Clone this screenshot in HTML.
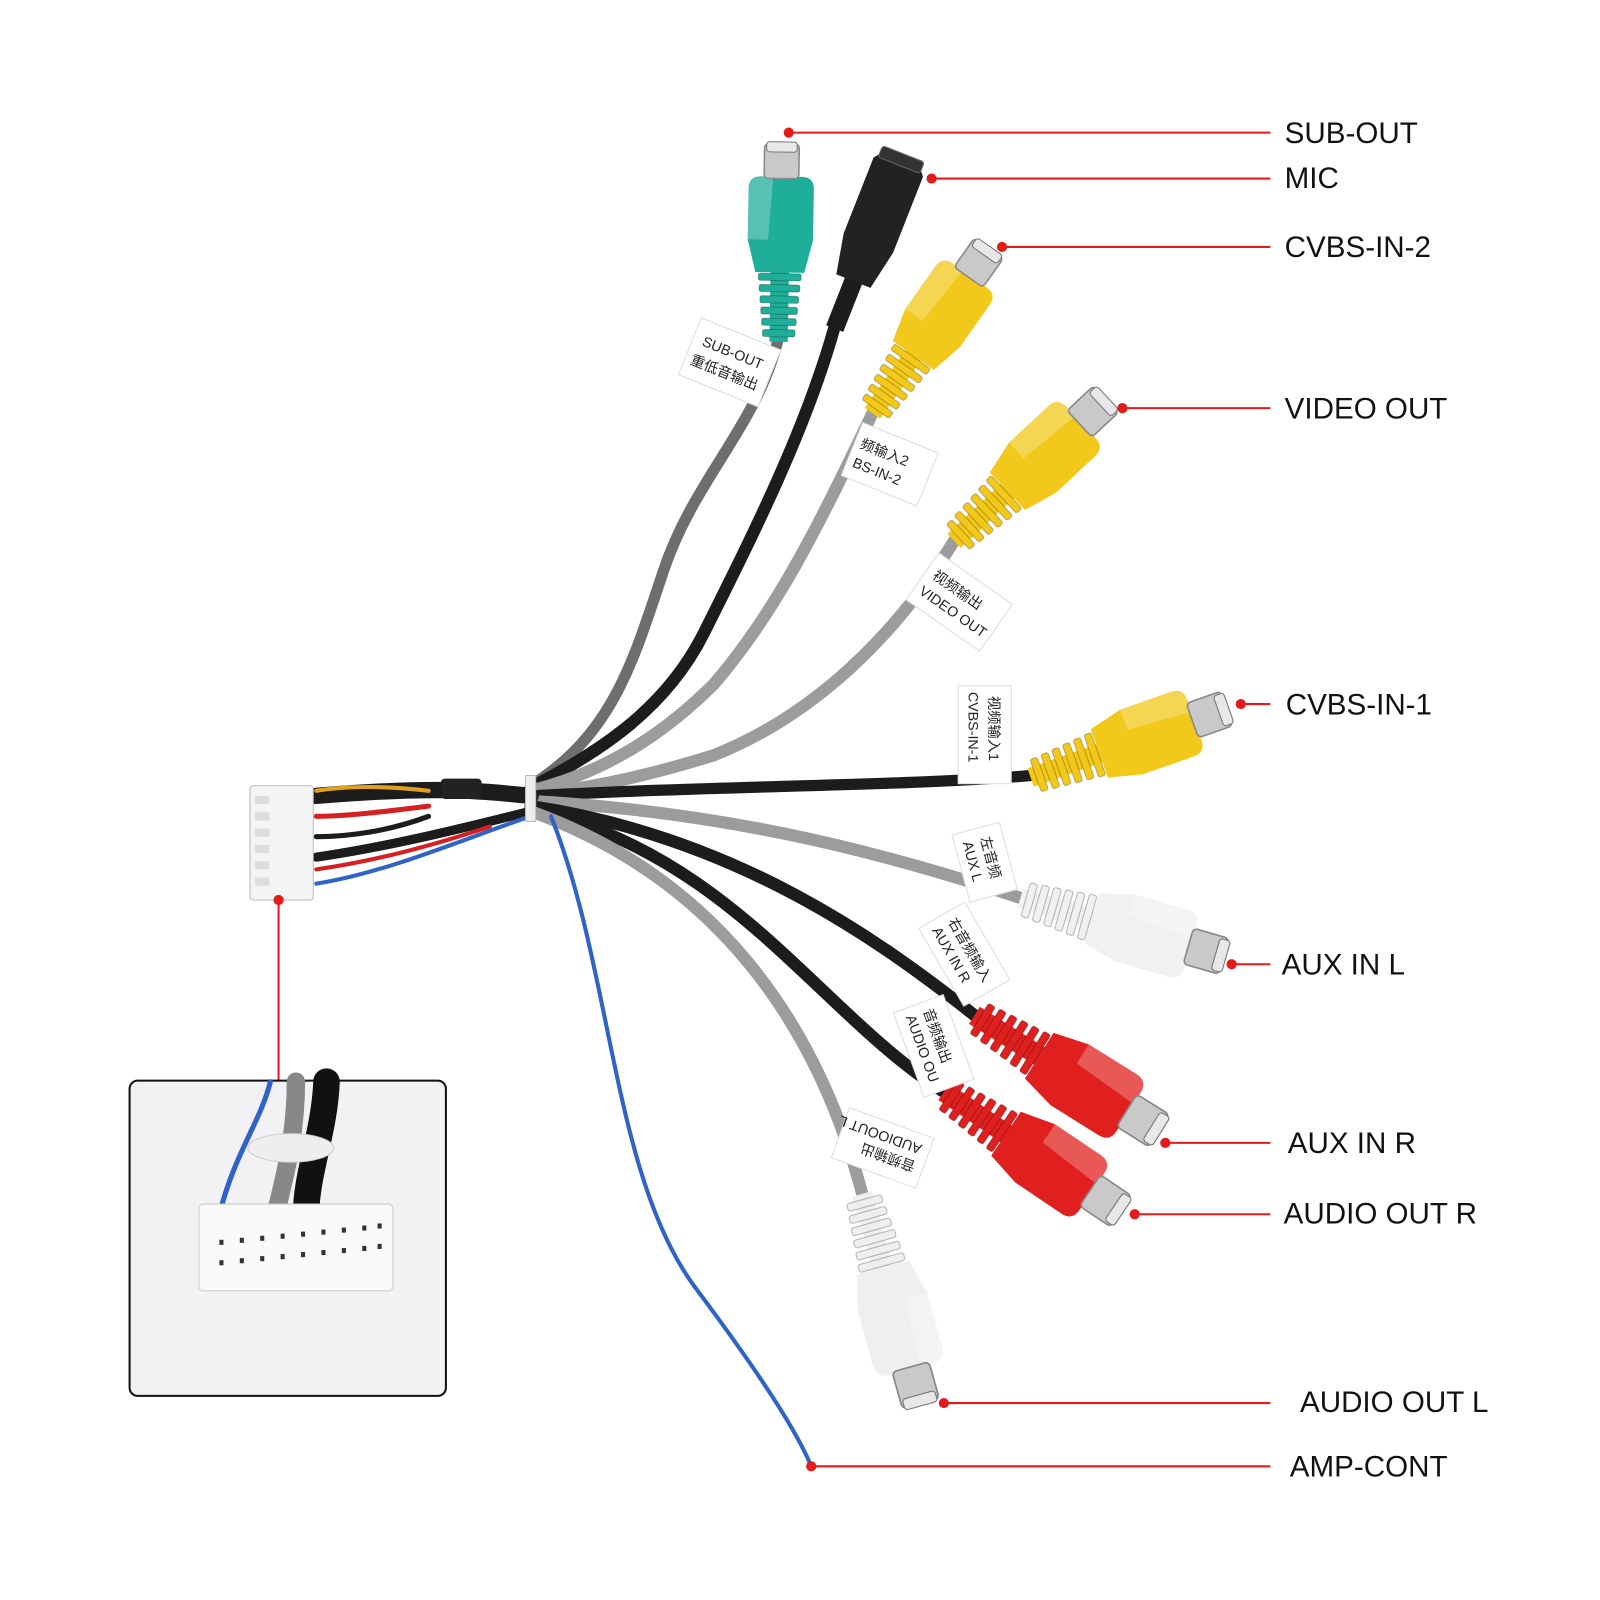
<!DOCTYPE html>
<html><head><meta charset="utf-8"><style>
html,body{margin:0;padding:0;background:#fff;}
svg{display:block;}
text{font-family:"Liberation Sans","Noto Sans CJK SC",sans-serif;}
</style></head><body>
<svg width="1600" height="1600" viewBox="0 0 1600 1600" xmlns="http://www.w3.org/2000/svg">
<defs>
<g id="rca">
  <rect x="0" y="-9" width="70" height="18" fill="currentColor"/>
  <g fill="currentColor" stroke="rgba(0,0,0,0.25)" stroke-width="1">
    <rect x="5" y="-16" width="7" height="32" rx="2"/>
    <rect x="16" y="-17" width="7" height="34" rx="2"/>
    <rect x="27" y="-18" width="7" height="36" rx="2"/>
    <rect x="38" y="-19" width="7" height="38" rx="2"/>
    <rect x="49" y="-20" width="7" height="40" rx="2"/>
    <rect x="60" y="-21" width="7" height="42" rx="2"/>
  </g>
  <path d="M68,-24 L100,-32 L150,-32 Q162,-32 162,-20 L162,20 Q162,32 150,32 L100,32 L68,24 Z" fill="currentColor"/>
  <path d="M100,-32 L150,-32 Q162,-32 162,-20 L162,-8 L100,-12 Z" fill="rgba(255,255,255,0.25)"/>
  <rect x="160" y="-17" width="34" height="34" rx="4" fill="#c9c9c9" stroke="#888" stroke-width="1.5"/>
  <rect x="186" y="-15" width="10" height="30" rx="3" fill="#e8e8e8" stroke="#777"/>
</g>
</defs>
<g transform="scale(1.0204)">
<!-- cables -->
<g fill="none" stroke-linecap="round">
  <path d="M762,335 C740,420 680,470 650,560 C620,650 600,720 520,770" stroke="#6e6e6e" stroke-width="11"/>
  <path d="M818,320 C790,420 740,520 690,620 C650,700 580,740 520,772" stroke="#1c1c1c" stroke-width="12"/>
  <path d="M855,405 C800,520 760,600 700,670 C640,730 580,760 520,775" stroke="#9c9c9c" stroke-width="12"/>
  <path d="M935,530 C880,620 800,700 700,740 C620,765 560,775 520,778" stroke="#9c9c9c" stroke-width="12"/>
  <path d="M1010,760 C900,770 700,770 520,780" stroke="#1c1c1c" stroke-width="11"/>
  <path d="M1000,880 C850,830 700,795 520,785" stroke="#9c9c9c" stroke-width="12"/>
  <path d="M955,995 C860,920 720,820 520,790" stroke="#1c1c1c" stroke-width="12"/>
  <path d="M925,1070 C800,990 720,840 520,792" stroke="#1c1c1c" stroke-width="12"/>
  <path d="M845,1170 C800,1000 700,860 520,795" stroke="#9c9c9c" stroke-width="12"/>
  <path d="M540,800 C600,950 600,1150 680,1260 C740,1340 780,1400 795,1437" stroke="#2f63c8" stroke-width="4"/>
  <path d="M520,780 C470,775 430,770 310,780" stroke="#1c1c1c" stroke-width="16"/>
  <path d="M420,775 C380,770 340,770 310,775" stroke="#e0a020" stroke-width="4"/>
  <path d="M420,790 C380,795 340,800 310,800" stroke="#d42020" stroke-width="5"/>
  <path d="M420,800 C380,815 340,820 310,820" stroke="#1c1c1c" stroke-width="5"/>
  <path d="M520,795 C460,810 380,830 310,840" stroke="#1c1c1c" stroke-width="9"/>
  <path d="M480,810 C420,830 360,845 310,852" stroke="#d42020" stroke-width="4"/>
  <path d="M520,800 C460,820 380,855 310,866" stroke="#2f63c8" stroke-width="4"/>
</g>
<rect x="515" y="760" width="10" height="45" fill="#eee" stroke="#bbb"/>
<rect x="432" y="763" width="40" height="20" rx="4" fill="#222"/>

<rect x="245" y="770" width="62" height="112" rx="3" fill="#f4f4f4" stroke="#bbb"/>
<g fill="#ddd">
  <rect x="250" y="780" width="14" height="8"/><rect x="250" y="796" width="14" height="8"/>
  <rect x="250" y="812" width="14" height="8"/><rect x="250" y="828" width="14" height="8"/>
  <rect x="250" y="844" width="14" height="8"/><rect x="250" y="860" width="14" height="8"/>
</g>

<use href="#rca" transform="translate(763,335) rotate(-89)" style="color:#1fae9a"/>
<g transform="translate(818,322) rotate(-68.5)">
  <rect x="0" y="-9" width="60" height="18" fill="#1c1c1c"/>
  <path d="M50,-18 L90,-26 L170,-26 L175,-22 L175,22 L170,26 L90,26 L50,18 Z" fill="#222"/>
  <rect x="172" y="-22" width="12" height="44" rx="3" fill="#333" stroke="#666"/>
</g>
<use href="#rca" transform="translate(855,405) rotate(-54.8) scale(1.02)" style="color:#f2c81a"/>
<use href="#rca" transform="translate(935,530) rotate(-43) scale(1.05)" style="color:#f2c81a"/>
<use href="#rca" transform="translate(1010,762) rotate(-19.4) scale(1.05)" style="color:#f2c81a"/>
<use href="#rca" transform="translate(1000,880) rotate(16) scale(1.07)" style="color:#f1f1f1"/>
<use href="#rca" transform="translate(955,995) rotate(32) scale(1.1)" style="color:#e0201e"/>
<use href="#rca" transform="translate(925,1070) rotate(34) scale(1.08)" style="color:#e0201e"/>
<use href="#rca" transform="translate(845,1170) rotate(74.4) scale(1.1)" style="color:#efefef"/>

<g font-size="14" fill="#222">
  <g transform="translate(715,355) rotate(22)"><rect x="-42" y="-30" width="84" height="60" fill="#fff" stroke="#ddd"/><text x="-32" y="-5">SUB-OUT</text><text x="-36" y="16">重低音输出</text></g>
  <g transform="translate(872,455) rotate(22)"><rect x="-40" y="-28" width="80" height="56" fill="#fff" stroke="#ddd"/><text x="-34" y="-4">频输入2</text><text x="-34" y="16">BS-IN-2</text></g>
  <g transform="translate(940,590) rotate(35)"><rect x="-44" y="-28" width="88" height="56" fill="#fff" stroke="#ddd"/><text x="-36" y="-4">视频输出</text><text x="-38" y="16">VIDEO OUT</text></g>
  <g transform="translate(965,720) rotate(90)"><rect x="-48" y="-26" width="96" height="52" fill="#fff" stroke="#ddd"/><text x="-38" y="-4">视频输入1</text><text x="-42" y="16">CVBS-IN-1</text></g>
  <g transform="translate(965,845) rotate(75)"><rect x="-34" y="-24" width="68" height="48" fill="#fff" stroke="#ddd"/><text x="-24" y="-2">左音频</text><text x="-24" y="16">AUX L</text></g>
  <g transform="translate(945,935) rotate(60)"><rect x="-44" y="-26" width="88" height="52" fill="#fff" stroke="#ddd"/><text x="-36" y="-2">右音频输入</text><text x="-36" y="16">AUX IN R</text></g>
  <g transform="translate(915,1025) rotate(70)"><rect x="-44" y="-26" width="88" height="52" fill="#fff" stroke="#ddd"/><text x="-36" y="-2">音频输出</text><text x="-36" y="16">AUDIO OU</text></g>
  <g transform="translate(865,1125) rotate(-160)"><rect x="-44" y="-26" width="88" height="52" fill="#fff" stroke="#ddd"/><text x="-36" y="-2">音频输出</text><text x="-36" y="16">AUDIOOUT L</text></g>
</g>

<g stroke="#e31b1b" stroke-width="2" fill="none">
  <line x1="773" y1="130" x2="1245" y2="130"/>
  <line x1="913" y1="175" x2="1245" y2="175"/>
  <line x1="982" y1="242" x2="1245" y2="242"/>
  <line x1="1100" y1="400" x2="1245" y2="400"/>
  <line x1="1216" y1="690" x2="1245" y2="690"/>
  <line x1="1207" y1="945" x2="1245" y2="945"/>
  <line x1="1142" y1="1120" x2="1245" y2="1120"/>
  <line x1="1112" y1="1190" x2="1245" y2="1190"/>
  <line x1="925" y1="1375" x2="1245" y2="1375"/>
  <line x1="795" y1="1437" x2="1245" y2="1437"/>
  <line x1="273" y1="882" x2="273" y2="1059"/>
</g>
<g fill="#e31b1b">
  <circle cx="773" cy="130" r="5"/><circle cx="913" cy="175" r="5"/><circle cx="982" cy="242" r="5"/>
  <circle cx="1100" cy="400" r="5"/><circle cx="1216" cy="690" r="5"/><circle cx="1207" cy="945" r="5"/>
  <circle cx="1142" cy="1120" r="5"/><circle cx="1112" cy="1190" r="5"/><circle cx="925" cy="1375" r="5"/>
  <circle cx="795" cy="1437" r="5"/><circle cx="273" cy="882" r="5"/>
</g>

<g font-size="29" fill="#111">
  <text x="1259" y="140">SUB-OUT</text>
  <text x="1259" y="184">MIC</text>
  <text x="1259" y="252">CVBS-IN-2</text>
  <text x="1259" y="410">VIDEO OUT</text>
  <text x="1260" y="700">CVBS-IN-1</text>
  <text x="1256" y="955">AUX IN L</text>
  <text x="1262" y="1130">AUX IN R</text>
  <text x="1258" y="1199">AUDIO OUT R</text>
  <text x="1274" y="1384">AUDIO OUT L</text>
  <text x="1264" y="1447">AMP-CONT</text>
</g>

<rect x="127" y="1059" width="310" height="309" rx="8" fill="#f2f2f4" stroke="#111" stroke-width="2"/>
<g fill="none" stroke-linecap="round">
  <path d="M265,1060 C255,1100 230,1130 215,1190" stroke="#2f63c8" stroke-width="5"/>
  <path d="M290,1060 C290,1110 280,1150 270,1190" stroke="#888" stroke-width="18"/>
  <path d="M320,1060 C318,1110 300,1150 300,1190" stroke="#111" stroke-width="26"/>
</g>
<ellipse cx="285" cy="1125" rx="42" ry="14" fill="#eee" stroke="#ccc"/>
<rect x="195" y="1180" width="190" height="85" rx="4" fill="#fafafa" stroke="#ccc"/>
<g fill="#333">
  <rect x="215" y="1215" width="4" height="5"/><rect x="235" y="1213" width="4" height="5"/><rect x="255" y="1211" width="4" height="5"/>
  <rect x="275" y="1209" width="4" height="5"/><rect x="295" y="1207" width="4" height="5"/><rect x="315" y="1205" width="4" height="5"/>
  <rect x="335" y="1203" width="4" height="5"/><rect x="355" y="1201" width="4" height="5"/><rect x="370" y="1199" width="4" height="5"/>
  <rect x="215" y="1235" width="4" height="5"/><rect x="235" y="1233" width="4" height="5"/><rect x="255" y="1231" width="4" height="5"/>
  <rect x="275" y="1229" width="4" height="5"/><rect x="295" y="1227" width="4" height="5"/><rect x="315" y="1225" width="4" height="5"/>
  <rect x="335" y="1223" width="4" height="5"/><rect x="355" y="1221" width="4" height="5"/><rect x="370" y="1219" width="4" height="5"/>
</g>
</g>
</svg>
</body></html>
